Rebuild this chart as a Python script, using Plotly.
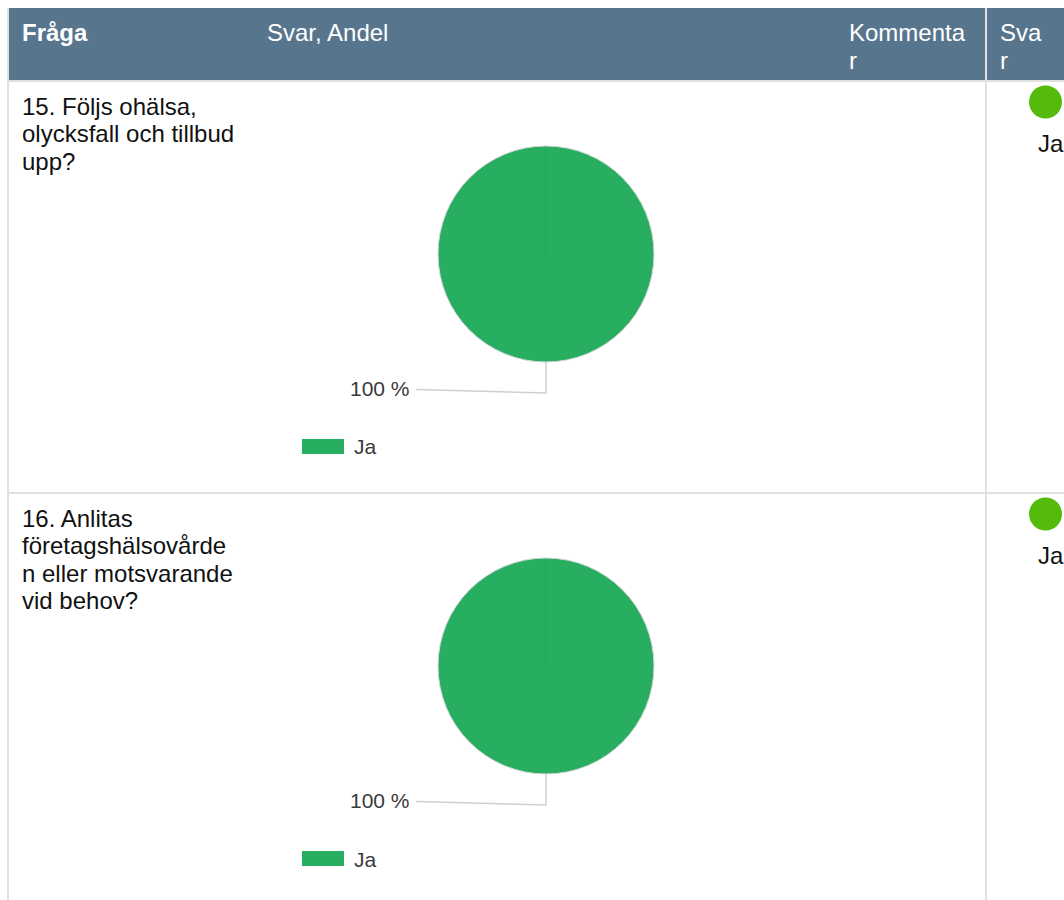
import plotly.graph_objects as go

# ---------------- data ----------------
header_labels = ["Fråga", "Svar, Andel", "Kommenta<br>r", "Sva<br>r"]
question_lines = [
    ["15. Följs ohälsa,", "olycksfall och tillbud", "upp?"],
    ["16. Anlitas", "företagshälsovårde", "n eller motsvarande", "vid behov?"],
]
answer_categories = ["Ja"]
answer_shares = [[100], [100]]
answers = ["Ja", "Ja"]

# ---------------- layout helpers (pixels) ----------------
W, H = 1064, 900
FONT = "Liberation Sans, Arial, sans-serif"
HEADER_BG = "#58758E"
GRID = "#e0e0e0"
PIE_GREEN = "#27AE60"
DOT_GREEN = "#55BB0B"
TS = 24  # table text size


def X(px):
    return px / W


def Y(py):
    return 1 - py / H


def top_for_cap(cap_top, size):
    # annotation box top so that capital letters start at cap_top
    return cap_top - 1 - (0.905 - 0.716) * size


fig = go.Figure()
shapes = []
annotations = []

# header band
shapes.append(dict(type="rect", xref="paper", yref="paper",
                   x0=X(8), x1=X(1064), y0=Y(80), y1=Y(8),
                   fillcolor=HEADER_BG, line=dict(width=0), layer="below"))

header_x = [20, 265, 847, 998]
LH = 27.5
for i, (lab, hx) in enumerate(zip(header_labels, header_x)):
    for j, line in enumerate(lab.split("<br>")):
        annotations.append(dict(
            xref="paper", yref="paper", x=X(hx), y=Y(top_for_cap(23 + j * LH, TS)),
            xanchor="left", yanchor="top", showarrow=False,
            text=("<b>%s</b>" % line) if i == 0 else line,
            font=dict(family=FONT, size=TS, color="white")))

# table grid lines
shapes.append(dict(type="line", xref="paper", yref="paper", x0=X(8), x1=X(8),
                   y0=Y(8), y1=Y(900), line=dict(color=GRID, width=2)))
shapes.append(dict(type="line", xref="paper", yref="paper", x0=X(986), x1=X(986),
                   y0=Y(8), y1=Y(900), line=dict(color=GRID, width=2)))

row_tops = [81, 493]
R = 108
PIE_CX = 546
for k, rt in enumerate(row_tops):
    shapes.append(dict(type="line", xref="paper", yref="paper", x0=X(8), x1=X(1064),
                       y0=Y(rt), y1=Y(rt), line=dict(color=GRID, width=2)))

    # question text
    for j, line in enumerate(question_lines[k]):
        annotations.append(dict(
            xref="paper", yref="paper", x=X(20), y=Y(top_for_cap(rt + 15.5 + j * LH, TS)),
            xanchor="left", yanchor="top", showarrow=False, text=line,
            font=dict(family=FONT, size=TS, color="#111111")))

    # pie
    cy = rt + 173
    fig.add_trace(go.Pie(
        labels=answer_categories, values=answer_shares[k],
        marker=dict(colors=[PIE_GREEN], line=dict(color="#d6d6d6", width=1)),
        sort=False, direction="clockwise", rotation=0,
        textinfo="none", hoverinfo="label+percent", showlegend=False,
        domain=dict(x=[X(PIE_CX - R), X(PIE_CX + R)], y=[Y(cy + R), Y(cy - R)])))
    # slice boundary at 12 o'clock
    shapes.append(dict(type="line", xref="paper", yref="paper", x0=X(PIE_CX), x1=X(PIE_CX),
                       y0=Y(cy), y1=Y(cy - R + 1), line=dict(color="rgba(0,0,0,0.06)", width=1)))

    # leader line + percentage label
    total = sum(answer_shares[k])
    pct = answer_shares[k][0] / total * 100
    shapes.append(dict(type="path", xref="paper", yref="paper",
                       path="M %f,%f L %f,%f L %f,%f" % (X(PIE_CX), Y(cy + R), X(PIE_CX), Y(rt + 312),
                                                      X(416), Y(rt + 308.5)),
                       line=dict(color="#cfcfcf", width=1.5)))
    annotations.append(dict(
        xref="paper", yref="paper", x=X(412), y=Y(rt + 307.5),
        xanchor="right", yanchor="middle", showarrow=False, text="%d %%" % round(pct),
        font=dict(family=FONT, size=21, color="#3a3a3a")))

    # legend
    shapes.append(dict(type="rect", xref="paper", yref="paper",
                       x0=X(302), x1=X(344), y0=Y(rt + 373), y1=Y(rt + 358),
                       fillcolor=PIE_GREEN, line=dict(width=0)))
    annotations.append(dict(
        xref="paper", yref="paper", x=X(352), y=Y(rt + 366),
        xanchor="left", yanchor="middle", showarrow=False, text=answer_categories[0],
        font=dict(family=FONT, size=21, color="#3a3a3a")))

    # answer column: status dot and answer text
    shapes.append(dict(type="circle", xref="paper", yref="paper",
                       x0=X(1029), x1=X(1062), y0=Y(rt + 37.5), y1=Y(rt + 4.5),
                       fillcolor=DOT_GREEN, line=dict(width=0)))
    annotations.append(dict(
        xref="paper", yref="paper", x=X(1036), y=Y(top_for_cap(rt + 70 - 17, TS)),
        xanchor="left", yanchor="top", showarrow=False, text=answers[k],
        font=dict(family=FONT, size=TS, color="#111111")))

fig.update_layout(
    width=W, height=H,
    margin=dict(l=0, r=0, t=0, b=0),
    paper_bgcolor="white", plot_bgcolor="white",
    shapes=shapes, annotations=annotations,
    showlegend=False,
)

fig.write_html("out.html", config={"displayModeBar": False},
               post_script="document.body.style.margin='0';document.body.style.overflow='hidden';")
